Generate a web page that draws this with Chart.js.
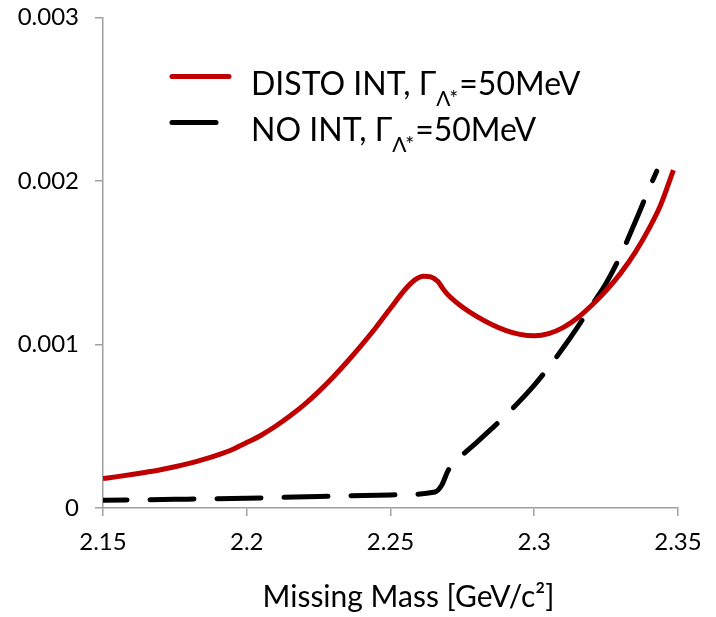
<!DOCTYPE html>
<html>
<head>
<meta charset="utf-8">
<script src="https://cdn.jsdelivr.net/npm/chart.js@4"></script>
<style>
  body { margin: 0; background: #fff; }
</style>
</head>
<body>
<canvas id="grafico_massa" width="716" height="617"></canvas>
<script>
// missing mass (GeV/c^2) and yields
const massDisto = [2.150, 2.155, 2.160, 2.165, 2.170, 2.175, 2.180, 2.185, 2.190, 2.195, 2.200, 2.205, 2.210, 2.215, 2.220, 2.225, 2.230, 2.235, 2.240, 2.245, 2.250, 2.255, 2.2585, 2.2615, 2.264, 2.2665, 2.2685, 2.2705, 2.2745, 2.280, 2.285, 2.290, 2.295, 2.300, 2.305, 2.310, 2.315, 2.320, 2.325, 2.330, 2.335, 2.340, 2.344, 2.3484]
const distoInt = [0.000180, 0.000192, 0.000205, 0.000219, 0.000234, 0.000252, 0.000273, 0.000297, 0.000325, 0.000358, 0.000400, 0.000445, 0.000500, 0.000562, 0.000632, 0.000712, 0.000800, 0.000896, 0.000998, 0.001106, 0.001222, 0.001335, 0.001395, 0.001418, 0.001414, 0.001385, 0.001335, 0.001295, 0.001236, 0.001172, 0.001124, 0.001087, 0.001062, 0.001053, 0.001066, 0.001103, 0.001162, 0.001240, 0.001330, 0.001435, 0.001560, 0.001712, 0.001855, 0.002067]

const massNoInt = [2.150, 2.175, 2.200, 2.225, 2.250, 2.2655, 2.2678, 2.2701, 2.2725, 2.275, 2.280, 2.285, 2.290, 2.295, 2.300, 2.305, 2.310, 2.315, 2.320, 2.325, 2.330, 2.335, 2.340, 2.3426]
const noInt = [0.000047, 0.000053, 0.000060, 0.000070, 0.000080, 0.000098, 0.000139, 0.000231, 0.000285, 0.000325, 0.000402, 0.000482, 0.000565, 0.000655, 0.000752, 0.000860, 0.000978, 0.001105, 0.001240, 0.001375, 0.001545, 0.001745, 0.001955, 0.002060]

const xTickLabels = ["2.15", "2.2", "2.25", "2.3", "2.35"]
const yTickLabels = ["0", "0.001", "0.002", "0.003"]
const tituloX = "Missing Mass [GeV/c²]"

const fonte = "Lato, 'Open Sans', sans-serif"
const corEixo = "#a0a0a0"

const juntarPontos = (xs, ys) => xs.map((x, i) => ({ x, y: ys[i] }))

// legend (with the subscript Γ_Λ*) and the x title, drawn by hand
const legendaManual = {
    id: "legendaManual",
    afterDraw(chart) {
        const ctx = chart.ctx
        const area = chart.chartArea
        const linhas = [
            { antes: "DISTO INT, Γ", depois: "=50MeV", cor: "#c00000", fim: 57 },
            { antes: "NO INT, Γ", depois: "=50MeV", cor: "#000000", fim: 44 }
        ]
        ctx.save()
        linhas.forEach((l, i) => {
            const base = area.top + 77 + i * 46
            const x0 = area.left + 69
            ctx.strokeStyle = l.cor
            ctx.lineWidth = 5
            ctx.lineCap = "round"
            ctx.setLineDash([])
            ctx.beginPath()
            ctx.moveTo(x0, base - 18)
            ctx.lineTo(x0 + l.fim, base - 18)
            ctx.stroke()

            let x = x0 + 79
            ctx.fillStyle = "#000"
            ctx.textAlign = "left"
            ctx.textBaseline = "alphabetic"
            ctx.font = "32px " + fonte
            ctx.fillText(l.antes, x, base)
            x += ctx.measureText(l.antes).width
            ctx.font = "21px " + fonte
            ctx.fillText("Λ*", x, base + 11)
            x += ctx.measureText("Λ*").width + 1
            ctx.font = "32px " + fonte
            ctx.fillText(l.depois, x, base)
        })

        ctx.font = "30px " + fonte
        ctx.textAlign = "center"
        ctx.textBaseline = "middle"
        ctx.fillText(tituloX, (area.left + area.right) / 2 + 18, area.bottom + 89)
        ctx.restore()
    }
}

const criarGrafico = () => {
    const ctx = document.querySelector("#grafico_massa")

    new Chart(ctx, {
        type: "line",
        data: {
            datasets: [{
                label: "DISTO INT, Γ_Λ*=50MeV",
                data: juntarPontos(massDisto, distoInt),
                borderColor: "#c00000",
                borderWidth: 5,
                pointRadius: 0,
                cubicInterpolationMode: "monotone",
                fill: false
            }, {
                label: "NO INT, Γ_Λ*=50MeV",
                data: juntarPontos(massNoInt, noInt),
                borderColor: "#000000",
                borderWidth: 5,
                borderDash: [44, 23],
                borderDashOffset: 20,
                borderCapStyle: "round",
                pointRadius: 0,
                cubicInterpolationMode: "monotone",
                fill: false
            }]
        },
        options: {
            responsive: false,
            animation: false,
            devicePixelRatio: 1,
            layout: { padding: { top: 17.5, right: 38, bottom: 0, left: 0 } },
            plugins: {
                legend: { display: false },
                tooltip: { enabled: false }
            },
            scales: {
                x: {
                    type: "linear",
                    min: 2.15,
                    max: 2.35,
                    ticks: {
                        stepSize: 0.05,
                        padding: 12,
                        color: "#000",
                        font: { family: fonte, size: 24 },
                        callback: (v, i) => xTickLabels[i] ?? ""
                    },
                    grid: { drawOnChartArea: false, tickLength: 8, color: corEixo, lineWidth: 1.5 },
                    border: { color: corEixo, width: 1.5 },
                    afterFit: (s) => { s.height = 109; s.paddingLeft = 0; s.paddingRight = 0 }
                },
                y: {
                    min: 0,
                    max: 0.003,
                    ticks: {
                        stepSize: 0.001,
                        padding: 16,
                        color: "#000",
                        font: { family: fonte, size: 24 },
                        callback: (v, i) => yTickLabels[i] ?? ""
                    },
                    grid: { drawOnChartArea: false, tickLength: 8, color: corEixo, lineWidth: 1.5 },
                    border: { color: corEixo, width: 1.5 },
                    afterFit: (s) => { s.width = 103; s.paddingTop = 0; s.paddingBottom = 0 }
                }
            }
        },
        plugins: [legendaManual]
    })
}

criarGrafico()
</script>
</body>
</html>
